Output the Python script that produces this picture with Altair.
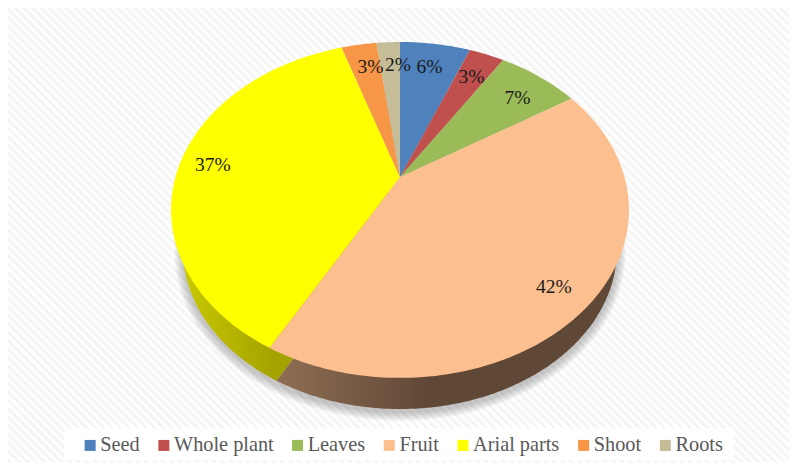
import numpy as np
import pandas as pd
import altair as alt

categories = ["Seed", "Whole plant", "Leaves", "Fruit", "Arial parts", "Shoot", "Roots"]
percent = [6, 3, 7, 42, 37, 3, 2]
top_colors = ["#4f81bd", "#c0504d", "#9bbb59", "#fcc090", "#ffff00", "#f79646", "#c4bd97"]

# label placement along each slice: radius share and small angular nudge (share of the pie)
label_radius = [0.81, 0.80, 0.80, 0.85, 0.85, 0.81, 0.81]
label_nudge = [0.0, 0.0, 0.004, 0.004, 0.0, 0.005, 0.008]

# perspective model of the tilted pie
CX, CY = 400.0, 177.0
K, D, C = 0.196, 161.5, 224.5
VY, WALL = 966.0, 0.947


def project(frac, r=1.0):
    t = 2 * np.pi * np.asarray(frac, dtype=float)
    u, v = r * np.sin(t), -r * np.cos(t)
    w = 1 - K * v
    return CX + C * u / w, CY + D * v / w


def lower(x, y):
    return CX + WALL * (x - CX), VY + WALL * (y - VY)


def slice_rows(start, end, name, low=False):
    n = max(4, int((end - start) * 400))
    x, y = project(np.linspace(start, end, n))
    x = np.r_[CX, x, CX]
    y = np.r_[CY, y, CY]
    if low:
        x, y = lower(x, y)
    return pd.DataFrame({"x": x, "y": y, "order": np.arange(len(x)), "name": name})


edges = np.r_[0, np.cumsum(percent)] / 100.0
top = pd.concat([slice_rows(edges[i], edges[i + 1], categories[i]) for i in range(7)])
wall_fruit = slice_rows(edges[3], edges[4], "Fruit", low=True)
wall_arial = slice_rows(edges[4], edges[5], "Arial parts", low=True)

# soft shadow beneath the pie
ring = np.linspace(0, 1, 121)
rx, ry = lower(*project(ring))
shadow = pd.concat(
    [
        pd.DataFrame(
            {
                "x": CX + (rx - CX) * (1 + g / 217.0),
                "y": 253 + (ry - 250) * (1 + g / 159.0),
                "order": np.arange(len(ring)),
                "level": g,
            }
        )
        for g in range(1, 10)
    ]
)

mid = (edges[:-1] + edges[1:]) / 2 + np.array(label_nudge)
lx, ly = project(mid, np.array(label_radius))
labels = pd.DataFrame({"x": lx, "y": ly + 1, "text": [f"{p}%" for p in percent]})

# faint diagonal hatch of the background
starts = np.arange(-460, 800, 8.5)
stripes = pd.DataFrame({"x": starts, "x2": starts + 470, "y": 0, "y2": 470})

xs = alt.Scale(domain=[8, 789])
ys = alt.Scale(domain=[8, 463], reverse=True)
X = alt.X("x:Q", scale=xs, axis=None)
Y = alt.Y("y:Q", scale=ys, axis=None)

bg = alt.Chart(stripes).mark_rule(color="#f5f5f5", strokeWidth=3, clip=True).encode(
    x=X, y=Y, x2="x2:Q", y2="y2:Q"
)
legend_box = (
    alt.Chart(pd.DataFrame({"x": [64], "x2": [734], "y": [428], "y2": [460]}))
    .mark_rect(color="#ffffff")
    .encode(x=X, y=Y, x2="x2:Q", y2="y2:Q")
)
sh = alt.Chart(shadow).mark_line(fill="#555555", fillOpacity=0.045, strokeWidth=0).encode(
    x=X, y=Y, order="order:Q", detail="level:N"
)


def wall(df, stops):
    grad = alt.Gradient(
        gradient="linear", x1=0, x2=1, y1=0, y2=0,
        stops=[alt.GradientStop(offset=o, color=c) for o, c in stops],
    )
    return alt.Chart(df).mark_line(fill=grad, strokeWidth=0).encode(x=X, y=Y, order="order:Q")


w1 = wall(wall_fruit, [(0, "#8f6e54"), (0.45, "#604836"), (1, "#604836")])
w2 = wall(wall_arial, [(0, "#c8c800"), (0.42, "#a3a300"), (1, "#a3a300")])

faces = alt.Chart(top).mark_line(strokeWidth=0).encode(
    x=X,
    y=Y,
    order="order:Q",
    detail="name:N",
    fill=alt.Fill(
        "name:N",
        scale=alt.Scale(domain=categories, range=top_colors),
        sort=categories,
        legend=alt.Legend(
            title=None,
            orient="none",
            legendX=72,
            legendY=427,
            direction="horizontal",
            columns=7,
            symbolType="square",
            symbolSize=121,
            symbolStrokeWidth=0,
            symbolOpacity=1,
            columnPadding=13.7,
            labelOffset=0,
            labelFont="Liberation Serif",
            labelFontSize=20.3,
            labelColor="#595959",
            padding=0,
        ),
    ),
)

texts = alt.Chart(labels).mark_text(font="Liberation Serif", fontSize=19.5, color="#1a1a1a").encode(
    x=X, y=Y, text="text:N"
)

chart = (
    alt.layer(bg, legend_box, sh, w1, w2, faces, texts)
    .properties(width=781, height=455, padding=0, autosize=alt.AutoSizeParams(type="none"))
    .configure_view(stroke=None)
)
chart.save("out.html", embed_options={"renderer": "svg", "actions": False})
